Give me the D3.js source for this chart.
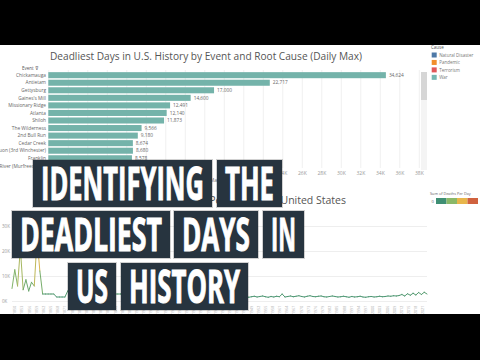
<!DOCTYPE html>
<html>
<head>
<meta charset="utf-8">
<script src="https://cdn.jsdelivr.net/npm/d3@7"></script>
<style>
  html, body { margin: 0; padding: 0; background: #000; }
  svg { display: block; }
  text { font-family: "Open Sans", "Noto Sans", sans-serif; }
</style>
</head>
<body>
<div id="chart"></div>
<script>
// bar chart data
var events = ["Chickamauga", "Antietam", "Gettysburg", "Gaines's Mill", "Missionary Ridge", "Atlanta",
              "Shiloh", "The Wilderness", "2nd Bull Run", "Cedar Creek", "Opequon (3rd Winchester)",
              "Franklin", "Stones River (Murfreesboro)"];
var maxDeaths = [34624, 22717, 17000, 14600, 12491, 12140, 11873, 9566, 9180, 8674, 8680, 8578, 8400];
var barTicks = [0, 2000, 4000, 6000, 8000, 10000, 12000, 14000, 16000, 18000, 20000,
                22000, 24000, 26000, 28000, 30000, 32000, 34000, 36000, 38000];
var causes = ["Natural Disaster", "Pandemic", "Terrorism", "War"];
var causeColors = ["#4e79a7", "#f28e2b", "#e15759", "#76b7b2"];

// line chart data (deaths per day, in order along the time axis)
var deathsPerDay = [
  5000, 12500, 6000, 21000, 4500, 8500, 4000, 7500, 6000, 25000,
  12000, 2800, 2800, 2800, 2800, 2800, 1600, 1600, 1600, 1600,
  4000, 3200, 2900, 3400, 3000, 2700, 3100, 3300, 2900, 2600,
  3000, 3200, 2800, 2700, 3000, 2900, 2800, 2800, 2800, 2800,
  2600, 2500, 2700, 2400, 2600, 2500, 2300, 2600, 2400, 2500,
  2700, 2600, 2400, 2300, 2500, 2600, 2400, 2200, 2300, 2500,
  2400, 2200, 2300, 2100, 2400, 2200, 2000, 2300, 2100, 1900,
  2200, 2000, 1800, 2100, 1900, 2000, 1800, 1700, 1900, 2000,
  1800, 1700, 1900, 1600, 1800, 1500, 1700, 1900, 1600, 1800,
  2000, 1700, 1500, 1800, 1600, 1900, 1700, 2800, 1600, 1800,
  2000, 1700, 1900, 2100, 1800, 1600, 1900, 2100, 1800, 1700,
  1900, 2000, 1700, 1600, 1800, 2000, 1800, 1600, 1700, 1900,
  1700, 1500, 1800, 1600, 1700, 1900, 1600, 1500, 1700, 1800,
  1600, 1700, 1900, 1700, 1800, 2000, 1900, 2100, 2000, 2200,
  2600, 2000, 2900, 2300, 3100, 2400, 3400, 2600, 3500, 2800
];
var lineTicks = [0, 10000, 20000, 30000];
var yearLabels = ["1850","1853","1856","1859","1862","1865","1868","1871","1874","1877",
  "1880","1883","1886","1889","1892","1895","1898","1901","1904","1907",
  "1910","1913","1916","1919","1922","1925","1928","1931","1934","1937",
  "1940","1943","1946","1949","1952","1955","1958","1961","1964","1967",
  "1970","1973","1976","1979","1982","1985","1988","1991","1994","1997",
  "2000","2003","2006","2009","2012","2015","2018","2021"];
var heatColors = ["#3f8f74", "#8ab868", "#e8b64b", "#d0623f"];

// overlay headline words, one list per line
var headline = [["IDENTIFYING", "THE"], ["DEADLIEST", "DAYS", "IN"], ["US", "HISTORY"]];

var width = 480, height = 360;
var svg = d3.select('#chart').append('svg')
    .attr('width', width)
    .attr('height', height);

svg.append('rect').attr('width', width).attr('height', height).attr('fill', '#000');
svg.append('rect').attr('x', 0).attr('y', 45).attr('width', width).attr('height', 269).attr('fill', '#fff');

// ---------- bar chart ----------
var x = d3.scaleLinear().domain([0, 38000]).range([48.3, 418.8]);
var y = d3.scaleBand().domain(events).range([71.4, 169.6]).paddingInner(0.2).paddingOuter(0.1);

svg.append('text')
    .attr('x', 50).attr('y', 59.5)
    .attr('font-size', 10.5).attr('fill', '#555')
    .attr('textLength', 312).attr('lengthAdjust', 'spacingAndGlyphs')
    .text('Deadliest Days in U.S. History by Event and Root Cause (Daily Max)');

var grid = svg.append('g')
    .attr('transform', 'translate(0,168)')
    .call(d3.axisBottom(x).tickValues(barTicks).tickSize(-98).tickFormat(''));
grid.select('.domain').remove();
grid.selectAll('line').attr('stroke', '#f0f0f0');

var xAxis = svg.append('g')
    .attr('transform', 'translate(0,168)')
    .call(d3.axisBottom(x).tickValues(barTicks).tickSize(0).tickPadding(3)
        .tickFormat(function(d) { return d / 1000 + 'K'; }));
xAxis.select('.domain').remove();
xAxis.selectAll('text').attr('font-size', 5).attr('fill', '#999').attr('font-family', 'Open Sans');

svg.append('text')
    .attr('x', 234).attr('y', 181.5).attr('text-anchor', 'middle')
    .attr('font-size', 5).attr('fill', '#777')
    .text('Max. Deaths Per Day');

svg.append('text')
    .attr('x', 22).attr('y', 69.5)
    .attr('font-size', 4.5).attr('fill', '#555')
    .text('Event \u22BD');

svg.selectAll('.bar')
    .data(events)
  .enter().append('rect')
    .attr('class', 'bar')
    .attr('x', x(0))
    .attr('y', function(d) { return y(d); })
    .attr('width', function(d, i) { return x(maxDeaths[i]) - x(0); })
    .attr('height', y.bandwidth())
    .attr('fill', '#74b3aa');

svg.selectAll('.cat')
    .data(events)
  .enter().append('text')
    .attr('x', 46)
    .attr('y', function(d) { return y(d) + y.bandwidth() / 2 + 1.7; })
    .attr('text-anchor', 'end')
    .attr('font-size', 4.8).attr('fill', '#666')
    .text(function(d) { return d; });

svg.selectAll('.val')
    .data(events)
  .enter().append('text')
    .attr('x', function(d, i) { return x(maxDeaths[i]) + 3; })
    .attr('y', function(d) { return y(d) + y.bandwidth() / 2 + 1.7; })
    .attr('font-size', 4.8).attr('fill', '#666')
    .text(function(d, i) { return d3.format(',')(maxDeaths[i]); });

// scrollbar
svg.append('rect').attr('x', 421).attr('y', 72).attr('width', 6).attr('height', 98).attr('fill', '#f4f4f4');
svg.append('rect').attr('x', 421).attr('y', 72).attr('width', 6).attr('height', 28).attr('fill', '#d6d6d6');

// cause legend
svg.append('text').attr('x', 431).attr('y', 49).attr('font-size', 4.5).attr('fill', '#555').text('Cause');
var leg = svg.selectAll('.leg').data(causes).enter().append('g')
    .attr('transform', function(d, i) { return 'translate(431.7,' + (52.5 + i * 7.45) + ')'; });
leg.append('rect').attr('width', 5).attr('height', 5)
    .attr('fill', function(d, i) { return causeColors[i]; });
leg.append('text').attr('x', 7.5).attr('y', 4.2).attr('font-size', 4.5).attr('fill', '#777')
    .text(function(d) { return d; });

// ---------- line chart ----------
svg.append('text')
    .attr('x', 346).attr('y', 204)
    .attr('text-anchor', 'end')
    .attr('font-size', 10.5).attr('fill', '#555')
    .text('Deaths Per Day in the United States');

var lx = d3.scaleLinear().domain([0, deathsPerDay.length - 1]).range([12, 427]);
var ly = d3.scaleLinear().domain([0, 30000]).range([301, 226]);
var color = d3.scaleLinear().domain([0, 10000, 20000, 30000]).range(heatColors);

var yGrid = svg.append('g')
    .attr('transform', 'translate(12,0)')
    .call(d3.axisLeft(ly).tickValues(lineTicks).tickSize(-415).tickFormat(''));
yGrid.select('.domain').remove();
yGrid.selectAll('line').attr('stroke', '#eee');

svg.selectAll('.ylab')
    .data(lineTicks)
  .enter().append('text')
    .attr('x', 2).attr('y', function(d) { return ly(d) + 1.6; })
    .attr('font-size', 4.5).attr('fill', '#999')
    .text(function(d) { return d / 1000 + 'K'; });

var segs = d3.pairs(deathsPerDay.map(function(v, i) { return [i, v]; }));
svg.append('g').selectAll('line')
    .data(segs)
  .enter().append('line')
    .attr('x1', function(d) { return lx(d[0][0]); })
    .attr('y1', function(d) { return ly(d[0][1]); })
    .attr('x2', function(d) { return lx(d[1][0]); })
    .attr('y2', function(d) { return ly(d[1][1]); })
    .attr('stroke', function(d) { return color((d[0][1] + d[1][1]) / 2); })
    .attr('stroke-width', 1)
    .attr('stroke-linecap', 'round');

var px = d3.scalePoint().domain(yearLabels).range([15, 423]);
svg.selectAll('.xlab')
    .data(yearLabels)
  .enter().append('text')
    .attr('transform', function(d) { return 'translate(' + (px(d) + 1.3) + ',314) rotate(-90)'; })
    .attr('font-size', 3.6).attr('fill', '#aaa')
    .text(function(d) { return d; });

// heat legend
svg.append('text').attr('x', 430).attr('y', 194.5).attr('font-size', 3.8).attr('fill', '#666').text('Sum of Deaths Per Day');
svg.append('text').attr('x', 431.5).attr('y', 203).attr('font-size', 4).attr('fill', '#666').text('0');
var hl = d3.scaleBand().domain(heatColors).range([436, 478]);
svg.selectAll('.heat')
    .data(heatColors)
  .enter().append('rect')
    .attr('x', function(d) { return hl(d); })
    .attr('y', 198).attr('width', hl.bandwidth()).attr('height', 6)
    .attr('fill', function(d) { return d; });

// ---------- headline overlay ----------
var rowTop = [160, 211, 263];
var rowBoxes = [[[33, 212], [217, 282]], [[12, 170], [174, 258], [263, 304]], [[68, 116], [121, 248]]];
var over = svg.append('g');
headline.forEach(function(words, r) {
  words.forEach(function(w, k) {
    var b = rowBoxes[r][k];
    over.append('rect')
        .attr('x', b[0] - 1).attr('y', rowTop[r] - 1)
        .attr('width', b[1] - b[0] + 2).attr('height', 49)
        .attr('fill', '#000').attr('opacity', 0.18);
    over.append('rect')
        .attr('x', b[0]).attr('y', rowTop[r])
        .attr('width', b[1] - b[0]).attr('height', 47)
        .attr('fill', '#27343f');
    over.append('text')
        .attr('x', b[0] + 8).attr('y', rowTop[r] + 39.5)
        .attr('font-family', '"Liberation Sans Narrow", "DejaVu Sans Condensed", Roboto, sans-serif')
        .attr('font-weight', 700)
        .attr('font-size', 46)
        .attr('fill', '#fff')
        .attr('stroke', '#fff').attr('stroke-width', 1)
        .attr('textLength', b[1] - b[0] - 16)
        .attr('lengthAdjust', 'spacingAndGlyphs')
        .text(w);
  });
});
</script>
</body>
</html>
